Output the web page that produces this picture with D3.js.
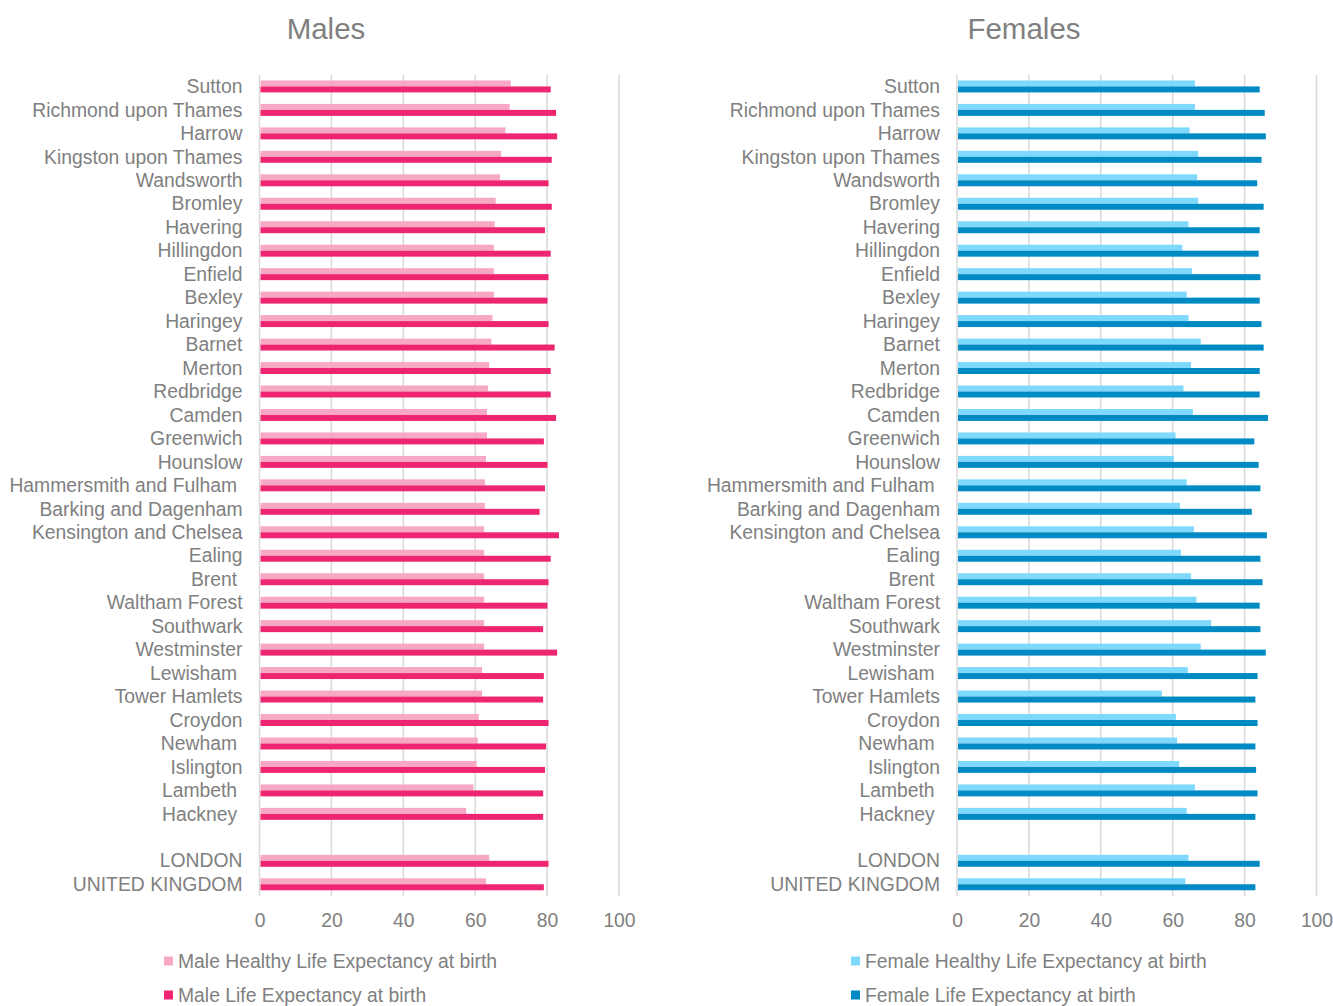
<!DOCTYPE html>
<html>
<head>
<meta charset="utf-8">
<script src="https://cdn.jsdelivr.net/npm/d3@7"></script>
<style>
  html, body { margin: 0; padding: 0; background: #fff; }
  svg { display: block; }
  text { font-family: "Liberation Sans", Arial, sans-serif; }
</style>
</head>
<body>
<svg id="chart" width="1333" height="1006"></svg>
<script>
// ---- Data ----
const categories = [
  "Sutton", "Richmond upon Thames", "Harrow", "Kingston upon Thames", "Wandsworth",
  "Bromley", "Havering", "Hillingdon", "Enfield", "Bexley", "Haringey", "Barnet",
  "Merton", "Redbridge", "Camden", "Greenwich", "Hounslow", "Hammersmith and Fulham ",
  "Barking and Dagenham", "Kensington and Chelsea", "Ealing", "Brent ", "Waltham Forest",
  "Southwark", "Westminster", "Lewisham ", "Tower Hamlets", "Croydon", "Newham ",
  "Islington", "Lambeth ", "Hackney ", "", "LONDON", "UNITED KINGDOM"
];

const maleHealthy = [
  69.9, 69.6, 68.4, 67.2, 66.9, 65.7, 65.4, 65.2, 65.2, 65.2, 64.8, 64.5,
  63.9, 63.6, 63.3, 63.3, 63.0, 62.7, 62.7, 62.5, 62.5, 62.5, 62.5,
  62.5, 62.5, 61.9, 61.9, 61.0, 60.7, 60.4, 59.5, 57.5, null, 63.9, 63.0
];
const maleLife = [
  81.0, 82.5, 82.8, 81.3, 80.4, 81.3, 79.4, 81.0, 80.4, 80.1, 80.4, 82.1,
  81.0, 81.0, 82.5, 79.1, 80.1, 79.4, 77.9, 83.3, 81.0, 80.4, 80.1,
  78.9, 82.8, 79.1, 78.9, 80.4, 79.7, 79.4, 78.9, 78.9, null, 80.4, 79.1
];
const femaleHealthy = [
  66.2, 66.2, 64.7, 67.1, 66.8, 67.1, 64.4, 62.7, 65.4, 63.9, 64.4, 67.8,
  65.1, 63.0, 65.6, 60.8, 60.3, 63.9, 62.0, 65.9, 62.3, 65.1, 66.6,
  70.7, 67.8, 64.2, 57.0, 60.9, 61.2, 61.8, 66.2, 63.9, null, 64.4, 63.5
];
const femaleLife = [
  84.2, 85.6, 85.9, 84.7, 83.5, 85.3, 84.2, 83.9, 84.4, 84.2, 84.7, 85.3,
  84.2, 84.2, 86.5, 82.7, 83.9, 84.4, 82.0, 86.2, 84.4, 85.0, 84.2,
  84.4, 85.9, 83.6, 83.0, 83.6, 83.0, 83.2, 83.6, 83.0, null, 84.2, 83.0
];
const xTicks = [0, 20, 40, 60, 80, 100];
const panelTitles = ["Males", "Females"];
const seriesNames = [
  ["Male Healthy Life Expectancy at birth", "Male Life Expectancy at birth"],
  ["Female Healthy Life Expectancy at birth", "Female Life Expectancy at birth"]
];

// ---- Styles ----
const colors = [["#F7A8C5", "#EE2570"], ["#7FD9FC", "#008AC3"]];
const textColor = "#808080";
const gridColor = "#D9D9D9";
const fontSize = "19.33px";

const svg = d3.select("#chart");

const panels = [
  { x0: 259.5, x1: 619, titleX: 326, legendX: 164, healthy: maleHealthy, life: maleLife },
  { x0: 957, x1: 1316.5, titleX: 1024, legendX: 851, healthy: femaleHealthy, life: femaleLife }
];
const yTop = 74.7, yBottom = 896;

const idx = d3.range(categories.length);
const y = d3.scaleBand().domain(idx).range([yTop, yBottom]).paddingInner(0.49).paddingOuter(0.245);
const ySub = d3.scaleBand().domain([0, 1]).range([0, y.bandwidth()]);

panels.forEach((p, pi) => {
  const x = d3.scaleLinear().domain([0, 100]).range([p.x0, p.x1]);
  const g = svg.append("g");

  // Title
  g.append("text")
    .attr("x", p.titleX).attr("y", 39)
    .attr("text-anchor", "middle")
    .attr("fill", textColor)
    .style("font-size", "29.5px")
    .text(panelTitles[pi]);

  // Gridlines
  g.append("g").selectAll("line").data(xTicks).join("line")
    .attr("x1", d => x(d)).attr("x2", d => x(d))
    .attr("y1", yTop).attr("y2", yBottom)
    .attr("stroke", gridColor).attr("stroke-width", 1.5);

  // X axis labels
  const xAxis = d3.axisBottom(x).tickValues(xTicks).tickSize(0).tickPadding(0);
  const xg = g.append("g").attr("transform", `translate(0,${yBottom + 17})`).call(xAxis);
  xg.select(".domain").remove();
  xg.selectAll("text").attr("fill", textColor).style("font-size", fontSize)
    .style("font-family", '"Liberation Sans", Arial, sans-serif');

  // Y axis labels
  const yAxis = d3.axisLeft(y).tickSize(0).tickPadding(0).tickFormat(i => categories[i]);
  const yg = g.append("g").attr("transform", `translate(${p.x0 - 17},0.5)`).call(yAxis);
  yg.select(".domain").remove();
  yg.selectAll("text").attr("fill", textColor).style("font-size", fontSize)
    .style("white-space", "pre").attr("xml:space", "preserve")
    .style("font-family", '"Liberation Sans", Arial, sans-serif');

  // Bars
  [p.healthy, p.life].forEach((vals, si) => {
    g.append("g").selectAll("rect")
      .data(idx.filter(i => vals[i] != null))
      .join("rect")
      .attr("x", x(0) + 1)
      .attr("y", i => y(i) + ySub(si))
      .attr("width", i => x(vals[i]) - x(0) - 1)
      .attr("height", ySub.bandwidth())
      .attr("fill", colors[pi][si]);
  });

  // Legend
  const lg = g.append("g");
  seriesNames[pi].forEach((name, si) => {
    const ly = 961 + si * 34;
    lg.append("rect").attr("x", p.legendX).attr("y", ly - 4.5).attr("width", 9).attr("height", 9)
      .attr("fill", colors[pi][si]);
    lg.append("text").attr("x", p.legendX + 14).attr("y", ly + 7)
      .attr("fill", textColor).style("font-size", fontSize).text(name);
  });
});
</script>
</body>
</html>
